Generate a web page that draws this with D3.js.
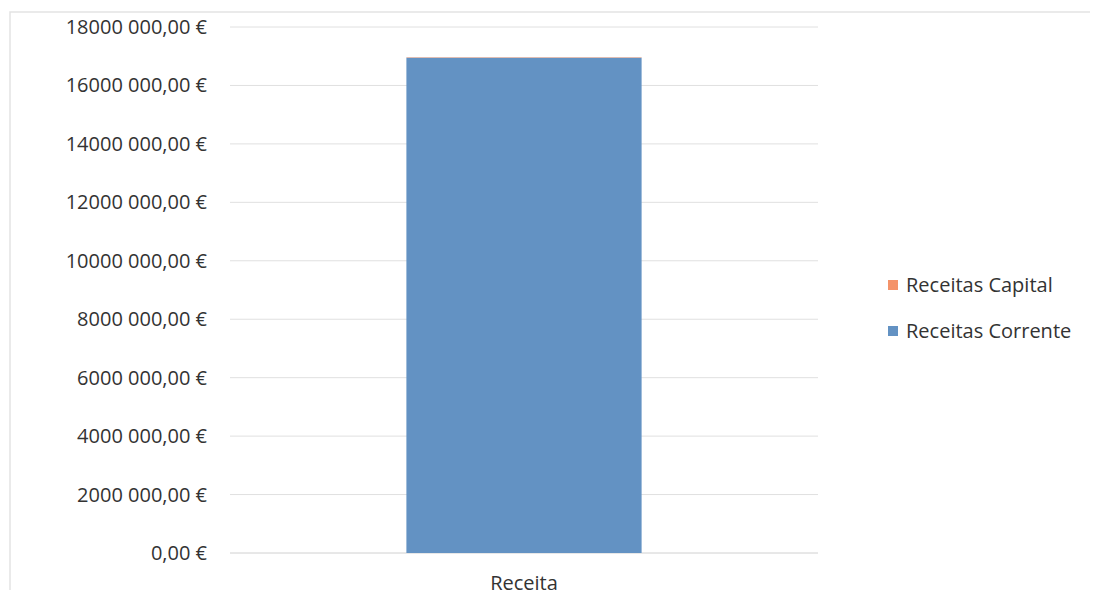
<!DOCTYPE html>
<html>
<head>
<meta charset="utf-8">
<script src="https://cdn.jsdelivr.net/npm/d3@7"></script>
<style>
  body { margin: 0; background: #fff; }
  text { font-family: "Open Sans", "Noto Sans", sans-serif; fill: #333; }
</style>
</head>
<body>
<svg id="chart" width="1096" height="601"></svg>
<script>
const categories = ["Receita"];
const seriesNames = ["Receitas Corrente", "Receitas Capital"];
const correnteValues = [16950000];
const capitalValues = [15000];
const yTicks = [0, 2000000, 4000000, 6000000, 8000000, 10000000, 12000000, 14000000, 16000000, 18000000];
const colors = { "Receitas Corrente": "#6392c3", "Receitas Capital": "#f4936a" };

const svg = d3.select("#chart");

// faint frame like the scanned page
svg.append("path")
  .attr("d", "M10,590 L10,12 L1090,12")
  .attr("fill", "none")
  .attr("stroke", "#e3e3e3")
  .attr("stroke-width", 1.5);

const x = d3.scaleBand().domain(categories).range([230, 818]).paddingInner(0.6).paddingOuter(0.3);
const y = d3.scaleLinear().domain([0, 18000000]).range([553, 27]);

const fmt = (v) => {
  const s = d3.format(",.2f")(v); // 18,000,000.00
  const [intPart, dec] = s.split(".");
  const groups = intPart.split(",");
  let out;
  if (groups.length > 2) out = groups.slice(0, groups.length - 2).join("") + groups[groups.length - 2] + " " + groups[groups.length - 1];
  else out = groups.join(" ");
  return out + "," + dec + " €";
};

// gridlines
svg.append("g")
  .selectAll("line")
  .data(yTicks)
  .enter()
  .append("line")
  .attr("x1", 230).attr("x2", 818)
  .attr("y1", (d) => y(d)).attr("y2", (d) => y(d))
  .attr("stroke", (d) => d === 0 ? "#d0d0d0" : "#e0e0e0")
  .attr("stroke-width", 1);

// y labels
svg.append("g")
  .selectAll("text")
  .data(yTicks)
  .enter()
  .append("text")
  .attr("x", 207)
  .attr("y", (d) => y(d))
  .attr("dy", "0.35em")
  .attr("text-anchor", "end")
  .style("font-size", "20px")
  .text((d) => fmt(d));

// stacked bars
const rows = categories.map((c, i) => ({ cat: c, "Receitas Corrente": correnteValues[i], "Receitas Capital": capitalValues[i] }));
const stacked = d3.stack().keys(seriesNames)(rows);

svg.append("g")
  .selectAll("g")
  .data(stacked)
  .enter()
  .append("g")
  .attr("fill", (d) => colors[d.key])
  .selectAll("rect")
  .data((d) => d)
  .enter()
  .append("rect")
  .attr("x", (d) => x(d.data.cat))
  .attr("width", x.bandwidth())
  .attr("y", (d) => y(d[1]))
  .attr("height", (d) => y(d[0]) - y(d[1]));

// x labels
svg.append("g")
  .selectAll("text")
  .data(categories)
  .enter()
  .append("text")
  .attr("x", (d) => x(d) + x.bandwidth() / 2)
  .attr("y", 590)
  .attr("text-anchor", "middle")
  .style("font-size", "20px")
  .text((d) => d);

// legend
const legendItems = ["Receitas Capital", "Receitas Corrente"];
const legend = svg.append("g")
  .selectAll("g")
  .data(legendItems)
  .enter()
  .append("g")
  .attr("transform", (d, i) => `translate(888, ${285 + i * 46})`);

legend.append("rect")
  .attr("x", 0).attr("y", -5)
  .attr("width", 10).attr("height", 10)
  .attr("fill", (d) => colors[d]);

legend.append("text")
  .attr("x", 18)
  .attr("dy", "0.35em")
  .style("font-size", "20px")
  .text((d) => d);
</script>
</body>
</html>
